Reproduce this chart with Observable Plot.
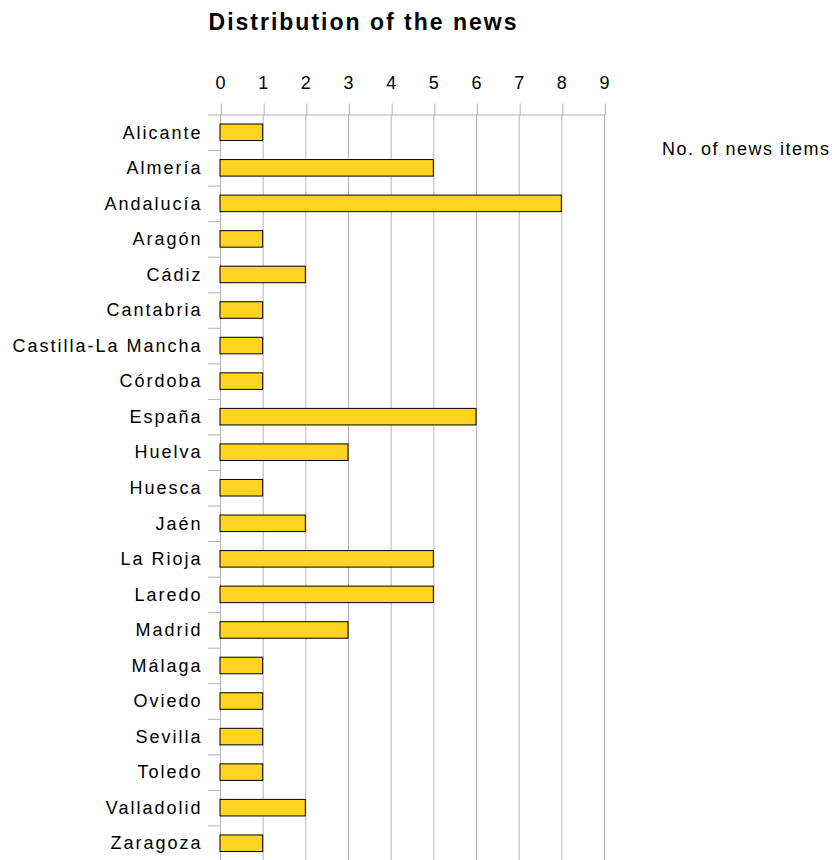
<!DOCTYPE html>
<html>
<head>
<meta charset="utf-8">
<script src="https://cdn.jsdelivr.net/npm/d3@7"></script>
<script src="https://cdn.jsdelivr.net/npm/@observablehq/plot@0.6"></script>
<style>
  html, body { margin: 0; padding: 0; background: #fff; }
  #wrap { position: relative; width: 832px; height: 860px; overflow: hidden; font-family: "Liberation Sans", Arial, sans-serif; }
  #title { position: absolute; left: 0; width: 727px; top: 9px; text-align: center; font-weight: bold; font-size: 23px; letter-spacing: 2px; color: #000; }
  #legend { position: absolute; left: 662px; top: 139px; font-size: 18px; letter-spacing: 1.5px; color: #000; white-space: nowrap; }
  #chart { position: absolute; left: 0; top: 0; }
</style>
</head>
<body>
<div id="wrap">
  <div id="chart"></div>
  <div id="title">Distribution of the news</div>
  <div id="legend">No. of news items</div>
</div>
<script>
const categories = ["Alicante","Almería","Andalucía","Aragón","Cádiz","Cantabria","Castilla-La Mancha","Córdoba","España","Huelva","Huesca","Jaén","La Rioja","Laredo","Madrid","Málaga","Oviedo","Sevilla","Toledo","Valladolid","Zaragoza"];
const newsCounts = [1,5,8,1,2,1,1,1,6,3,1,2,5,5,3,1,1,1,1,2,1];
const xTicks = [0,1,2,3,4,5,6,7,8,9];

const data = categories.map((c, i) => ({category: c, count: newsCounts[i]}));

const W = 832, H = 860, mTop = 114.5, mBottom = -1;
const step = (H - mBottom - mTop) / categories.length;
const grid = "#b3b3b3";

const chart = Plot.plot({
  width: W,
  height: H,
  marginTop: mTop,
  marginBottom: mBottom,
  marginLeft: 220,
  marginRight: 228,
  style: {fontFamily: "'Liberation Sans', Arial, sans-serif", fontSize: "18px", letterSpacing: "2px", color: "#000", background: "transparent", overflow: "visible"},
  x: {domain: [0, 9], ticks: xTicks, round: false},
  y: {domain: categories, padding: 0, round: false},
  marks: [
    Plot.gridX(xTicks, {stroke: grid, strokeOpacity: 1, strokeWidth: 1}),
    Plot.ruleY(categories.slice(0, 1), {y: d => d, dy: -step / 2, stroke: grid, strokeWidth: 1}),
    Plot.axisX(xTicks, {anchor: "top", tickSize: 12, tickPadding: 14, stroke: grid, fontSize: 18, dx: 1, label: null, color: "#000"}),
    Plot.axisY(categories, {anchor: "left", tickSize: 12, tickFormat: () => "", dy: -step / 2, stroke: grid, label: null}),
    Plot.axisY(categories, {anchor: "left", tickSize: 0, tickPadding: 18, fontSize: 18, label: null, fill: "#000"}),
    Plot.barX(data, {x: "count", y: "category", fill: "#ffd320", stroke: "#000", strokeWidth: 1, insetTop: 9.5, insetBottom: 9.5})
  ]
});
document.getElementById("chart").appendChild(chart);
</script>
</body>
</html>
